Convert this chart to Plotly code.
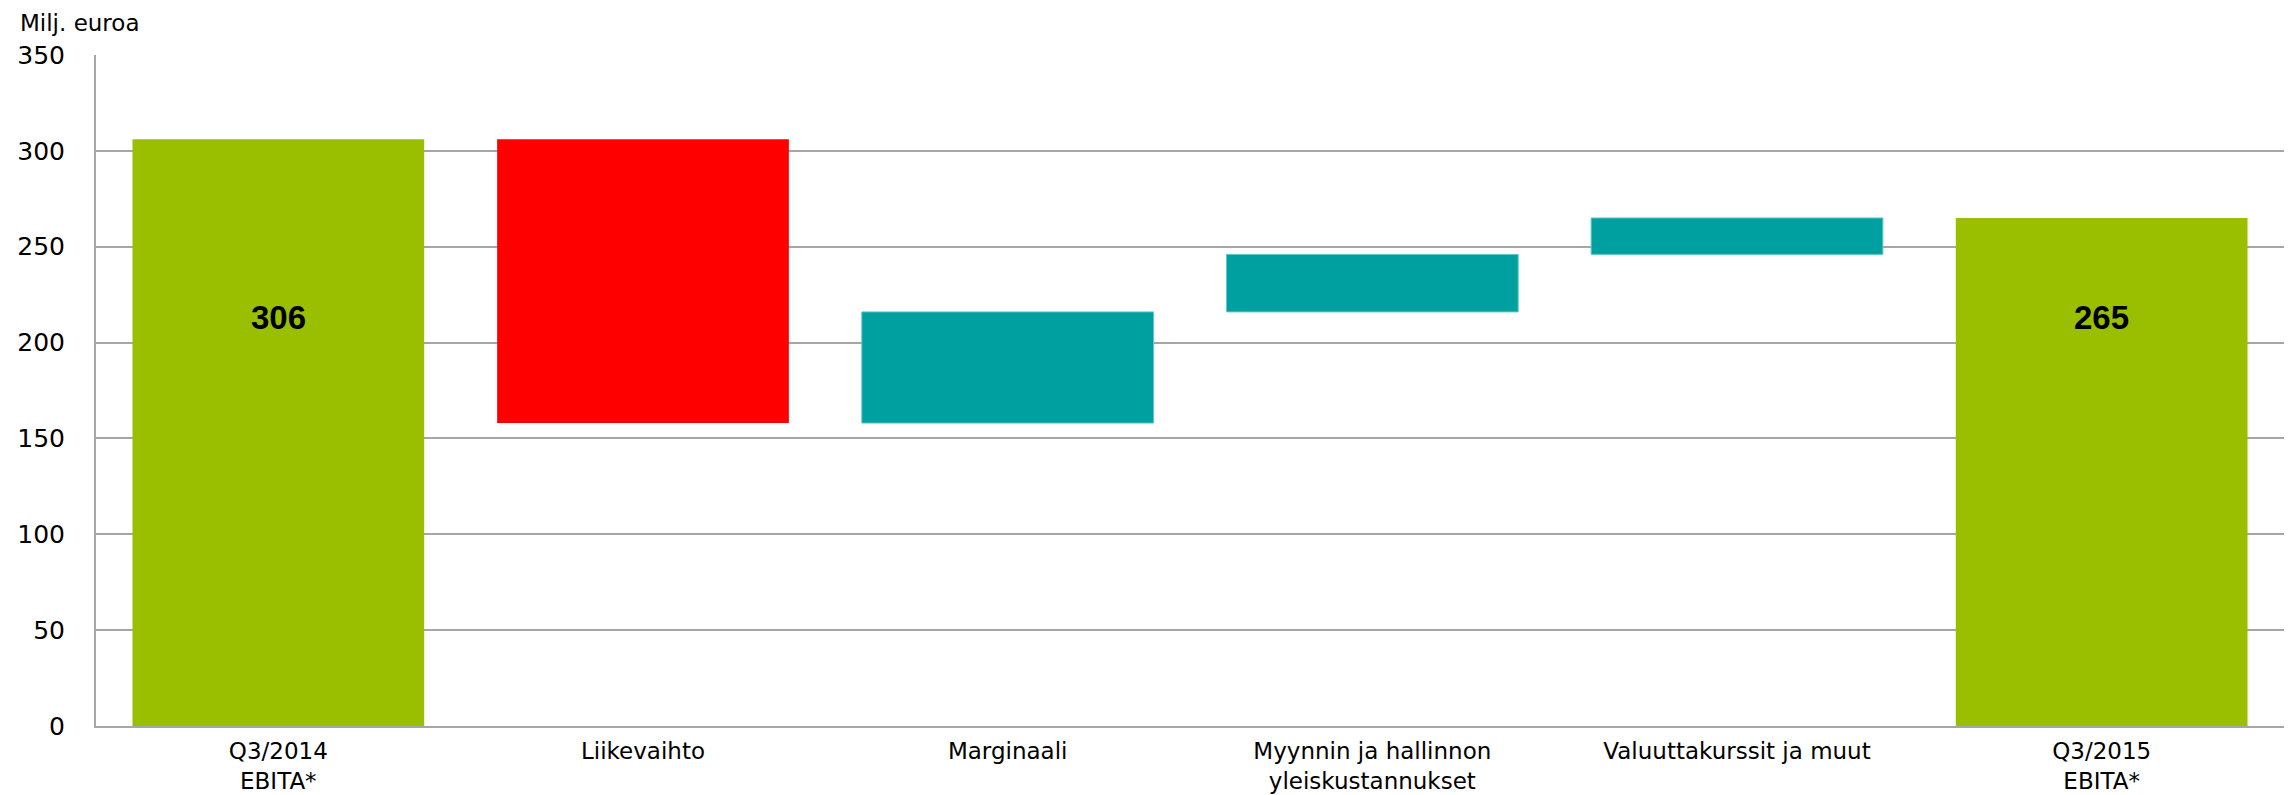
import plotly.graph_objects as go

# ---- data ----
categories = [
    "Q3/2014<br>EBITA*",
    "Liikevaihto",
    "Marginaali",
    "Myynnin ja hallinnon<br>yleiskustannukset",
    "Valuuttakurssit ja muut",
    "Q3/2015<br>EBITA*",
]
measures = ["absolute", "relative", "relative", "relative", "relative", "total"]
values = [306, -148, 58, 30, 19, 0]
total_labels = ["306", "", "", "", "", "265"]
y_ticks = [0, 50, 100, 150, 200, 250, 300, 350]
y_unit = "Milj. euroa"

# ---- style ----
GREEN = "#99BF00"
RED = "#FF0000"
TEAL = "#00A0A0"
GRID = "#A6A6A6"
TICK_FONT = dict(family="DejaVu Sans, Arial, sans-serif", size=25, color="#000000")
X_TICK_FONT = dict(family="DejaVu Sans, Arial, sans-serif", size=23, color="#000000")
LABEL_LEVEL = 213  # vertical level of the total labels (axis units)

fig = go.Figure()
fig.add_trace(go.Waterfall(
    x=categories,
    y=values,
    measure=measures,
    increasing=dict(marker=dict(color=TEAL, line=dict(color="#5CCACA", width=1))),
    decreasing=dict(marker=dict(color=RED, line=dict(width=0))),
    totals=dict(marker=dict(color=GREEN, line=dict(width=0))),
    connector=dict(visible=False),
    textposition="none",
    hoverinfo="skip",
    showlegend=False,
))

for cat, lab in zip(categories, total_labels):
    if lab:
        fig.add_annotation(
            x=cat, y=LABEL_LEVEL, xref="x", yref="y",
            text="<b>%s</b>" % lab, showarrow=False,
            font=dict(family="Liberation Sans Narrow, Liberation Sans, Arial", size=33, color="#000000"),
        )

fig.add_annotation(
    xref="paper", yref="paper", x=-0.035, y=1.068,
    xanchor="left", yanchor="top", showarrow=False,
    text=y_unit, borderpad=0,
    font=dict(family="DejaVu Sans, Arial, sans-serif", size=23, color="#000000"),
)

# the page body has an 8px default margin; size the figure to compensate
fig.update_layout(
    width=2285, height=787,
    margin=dict(l=88, r=9, t=47, b=69, autoexpand=False),
    paper_bgcolor="white", plot_bgcolor="white",
    bargap=0.23,
    showlegend=False,
)
fig.update_xaxes(
    showgrid=False, showline=True, linecolor=GRID, linewidth=2,
    ticks="", tickfont=X_TICK_FONT, ticklabelstandoff=3,
    zeroline=False, automargin=False,
)
fig.update_yaxes(
    range=[0, 350], tickvals=y_ticks, ticktext=[str(t) for t in y_ticks],
    showgrid=True, gridcolor=GRID, gridwidth=2,
    showline=True, linecolor=GRID, linewidth=2,
    zeroline=False, ticks="", tickfont=TICK_FONT, ticklabelstandoff=24,
    automargin=False,
)

fig.write_html("out.html")
